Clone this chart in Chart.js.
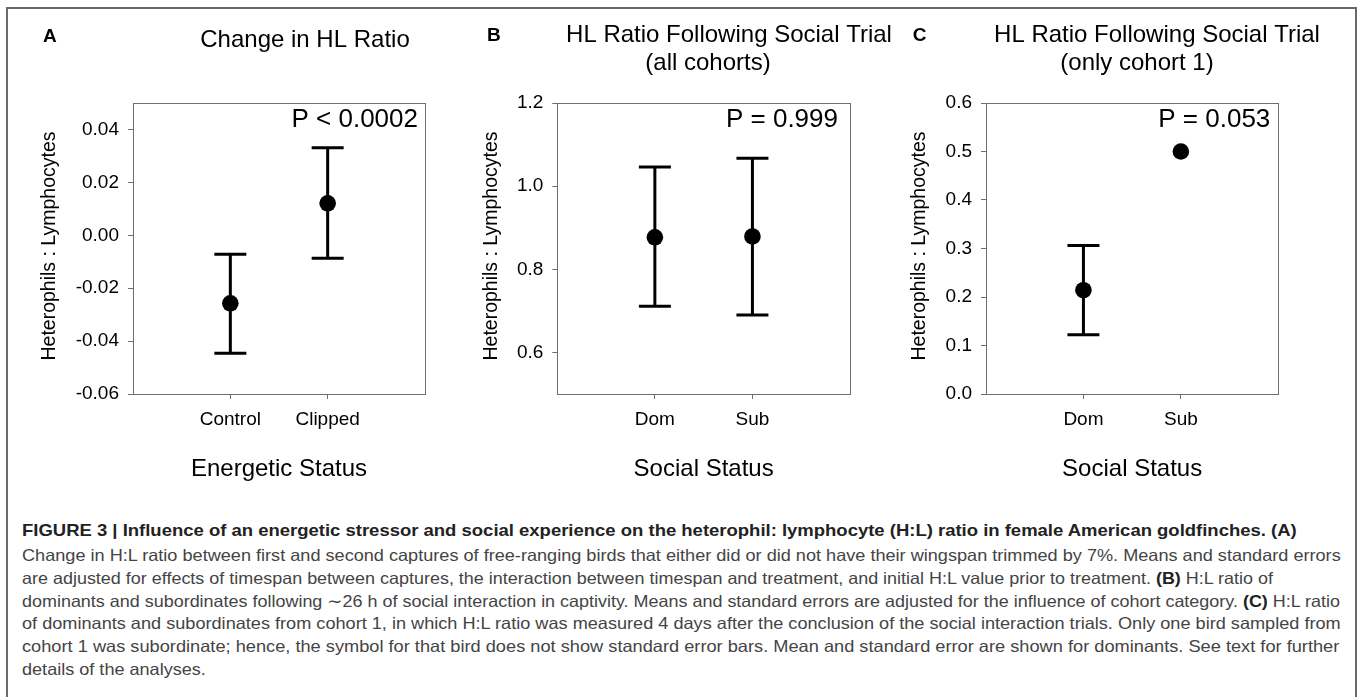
<!DOCTYPE html>
<html>
<head>
<meta charset="utf-8">
<script src="https://cdn.jsdelivr.net/npm/chart.js@4"></script>
<style>
  html, body { margin: 0; padding: 0; background: #fff; }
  body { width: 1358px; height: 697px; position: relative; overflow: hidden; font-family: Arial, "Liberation Sans", sans-serif; }
  .frame { position: absolute; left: 6px; top: 7px; width: 1347px; height: 720px; border: 2px solid #6a6a6a; border-bottom: none; }
  canvas { position: absolute; top: 0; }
  .cap { position: absolute; left: 22px; white-space: nowrap; font-size: 16.5px; line-height: 16.5px; color: #444; transform-origin: 0 0; }
  .cap.head { font-weight: bold; color: #222; }
  .cap b { color: #222; }
</style>
</head>
<body>
<div class="frame"></div>
<canvas id="panelA" width="450" height="500" style="left:0px"></canvas>
<canvas id="panelB" width="450" height="500" style="left:450px"></canvas>
<canvas id="panelC" width="458" height="500" style="left:900px"></canvas>

<div class="cap head" data-right="1296.7" data-base="535.5">FIGURE 3 | Influence of an energetic stressor and social experience on the heterophil: lymphocyte (H:L) ratio in female American goldfinches. (A)</div>
<div class="cap" data-right="1340.7" data-base="561">Change in H:L ratio between first and second captures of free-ranging birds that either did or did not have their wingspan trimmed by 7%. Means and standard errors</div>
<div class="cap" data-right="1273" data-base="584">are adjusted for effects of timespan between captures, the interaction between timespan and treatment, and initial H:L value prior to treatment. <b>(B)</b> H:L ratio of</div>
<div class="cap" data-right="1340" data-base="606.5">dominants and subordinates following ∼26 h of social interaction in captivity. Means and standard errors are adjusted for the influence of cohort category. <b>(C)</b> H:L ratio</div>
<div class="cap" data-right="1340.7" data-base="629">of dominants and subordinates from cohort 1, in which H:L ratio was measured 4 days after the conclusion of the social interaction trials. Only one bird sampled from</div>
<div class="cap" data-right="1339.3" data-base="651.5">cohort 1 was subordinate; hence, the symbol for that bird does not show standard error bars. Mean and standard error are shown for dominants. See text for further</div>
<div class="cap" data-base="674.5">details of the analyses.</div>

<script>
// Panel A: change in HL ratio by energetic status
const categoriesA = ['Control', 'Clipped'];
const meansA = [-0.0257, 0.0121];
const upperA = [-0.0072, 0.0331];
const lowerA = [-0.0446, -0.0087];
const yTicksA = [-0.06, -0.04, -0.02, 0.00, 0.02, 0.04];

// Panel B: HL ratio after social trial, all cohorts
const categoriesB = ['Dom', 'Sub'];
const meansB = [0.877, 0.879];
const upperB = [1.046, 1.067];
const lowerB = [0.711, 0.690];
const yTicksB = [0.6, 0.8, 1.0, 1.2];

// Panel C: only cohort 1 (one subordinate bird, no error bar)
const categoriesC = ['Dom', 'Sub'];
const meansC = [0.214, 0.500];
const upperC = [0.306, null];
const lowerC = [0.122, null];
const yTicksC = [0.0, 0.1, 0.2, 0.3, 0.4, 0.5, 0.6];

const FONT = 'Arial, "Liberation Sans", sans-serif';
const AXIS_GREY = '#6e6e6e';

/**
 * Error bars drawn under the points, using the chart's own scales
 */
const errorBarsPlugin = {
    id: 'errorBars',
    beforeDatasetsDraw(chart, args, opts) {
        const { ctx } = chart;
        const x = chart.scales.x;
        const y = chart.scales.y;
        ctx.save();
        ctx.strokeStyle = '#000';
        ctx.lineWidth = 3;
        opts.upper.forEach((hi, i) => {
            if (hi == null) return;
            const px = x.getPixelForValue(i + 1);
            const yHi = y.getPixelForValue(hi);
            const yLo = y.getPixelForValue(opts.lower[i]);
            ctx.beginPath();
            ctx.moveTo(px, yHi); ctx.lineTo(px, yLo);
            ctx.moveTo(px - 16, yHi); ctx.lineTo(px + 16, yHi);
            ctx.moveTo(px - 16, yLo); ctx.lineTo(px + 16, yLo);
            ctx.stroke();
        });
        ctx.restore();
    }
};

/**
 * Box frame plus panel letter, titles, P value and axis titles
 */
const panelTextPlugin = {
    id: 'panelText',
    afterDraw(chart, args, o) {
        const { ctx, chartArea: a } = chart;
        ctx.save();
        ctx.strokeStyle = AXIS_GREY;
        ctx.lineWidth = 1;
        ctx.strokeRect(Math.round(a.left) + 0.5, Math.round(a.top) + 0.5, Math.round(a.right - a.left), Math.round(a.bottom - a.top));

        ctx.fillStyle = '#000';
        ctx.textBaseline = 'middle';

        ctx.font = 'bold 19px ' + FONT;
        ctx.textAlign = 'left';
        ctx.fillText(o.letter, o.letterX, o.letterY);

        ctx.font = '24px ' + FONT;
        ctx.textAlign = 'center';
        o.titles.forEach(t => ctx.fillText(t.text, t.x, t.y));

        ctx.font = '26px ' + FONT;
        ctx.textAlign = 'right';
        ctx.fillText(o.pText, a.right - o.pInset, 120);

        ctx.font = '24px ' + FONT;
        ctx.textAlign = 'center';
        ctx.fillText(o.xTitle, (a.left + a.right) / 2, 469);

        ctx.translate(o.yTitleX, 246);
        ctx.rotate(-Math.PI / 2);
        ctx.font = '19.5px ' + FONT;
        ctx.fillText('Heterophils : Lymphocytes', 0, 0);
        ctx.restore();
    }
};

function makePanel(p) {
    const canvas = document.getElementById(p.id);
    return new Chart(canvas, {
        type: 'scatter',
        data: {
            datasets: [{
                data: p.means.map((m, i) => ({ x: i + 1, y: m })),
                backgroundColor: '#000',
                borderColor: '#000',
                borderWidth: 0,
                pointRadius: 8.3,
                pointHoverRadius: 8.3
            }]
        },
        options: {
            responsive: false,
            animation: false,
            devicePixelRatio: 1,
            events: [],
            layout: { padding: { left: p.padLeft, right: p.padRight, top: 103, bottom: 10 } },
            plugins: {
                legend: { display: false },
                tooltip: { enabled: false },
                errorBars: { upper: p.upper, lower: p.lower },
                panelText: p.text
            },
            scales: {
                x: {
                    type: 'linear',
                    min: 0,
                    max: 3,
                    afterBuildTicks: s => { s.ticks = p.categories.map((c, i) => ({ value: i + 1 })); },
                    afterFit: s => { s.height = 96; },
                    ticks: {
                        callback: (v, i) => p.categories[i],
                        font: { family: FONT, size: 19 },
                        color: '#000',
                        padding: 9,
                        maxRotation: 0,
                        autoSkip: false
                    },
                    grid: { drawOnChartArea: false, drawTicks: true, tickLength: 5, color: AXIS_GREY },
                    border: { display: false }
                },
                y: {
                    min: p.yMin,
                    max: p.yMax,
                    afterBuildTicks: s => { s.ticks = p.yTicks.map(v => ({ value: v })); },
                    afterFit: s => { s.width = p.yWidth; },
                    ticks: {
                        callback: v => v.toFixed(p.decimals),
                        font: { family: FONT, size: 19 },
                        color: '#000',
                        padding: 9
                    },
                    grid: { drawOnChartArea: false, drawTicks: true, tickLength: 5, color: AXIS_GREY },
                    border: { display: false }
                }
            }
        },
        plugins: [errorBarsPlugin, panelTextPlugin]
    });
}

makePanel({
    id: 'panelA', categories: categoriesA, means: meansA, upper: upperA, lower: lowerA,
    yTicks: yTicksA, yMin: -0.06, yMax: 0.05, decimals: 2,
    padLeft: 33, yWidth: 100, padRight: 25,
    text: {
        letter: 'A', letterX: 43, letterY: 37,
        titles: [{ text: 'Change in HL Ratio', x: 305, y: 40 }],
        pText: 'P < 0.0002', pInset: 7,
        xTitle: 'Energetic Status', yTitleX: 50
    }
});

makePanel({
    id: 'panelB', categories: categoriesB, means: meansB, upper: upperB, lower: lowerB,
    yTicks: yTicksB, yMin: 0.5, yMax: 1.2, decimals: 1,
    padLeft: 27, yWidth: 80.3, padRight: 50,
    text: {
        letter: 'B', letterX: 37, letterY: 36,
        titles: [
            { text: 'HL Ratio Following Social Trial', x: 279, y: 35 },
            { text: '(all cohorts)', x: 258, y: 63 }
        ],
        pText: 'P = 0.999', pInset: 12,
        xTitle: 'Social Status', yTitleX: 42
    }
});

makePanel({
    id: 'panelC', categories: categoriesC, means: meansC, upper: upperC, lower: lowerC,
    yTicks: yTicksC, yMin: 0, yMax: 0.6, decimals: 1,
    padLeft: 26, yWidth: 60, padRight: 79.7,
    text: {
        letter: 'C', letterX: 12.7, letterY: 36,
        titles: [
            { text: 'HL Ratio Following Social Trial', x: 257, y: 35 },
            { text: '(only cohort 1)', x: 237, y: 63 }
        ],
        pText: 'P = 0.053', pInset: 8,
        xTitle: 'Social Status', yTitleX: 20
    }
});

// Caption lines: place by baseline and stretch each to its measured right edge
const capLines = Array.from(document.querySelectorAll('.cap'));
const scales = [];
capLines.forEach(el => {
    el.style.top = (parseFloat(el.dataset.base) - 14) + 'px';
    if (el.dataset.right) {
        const w = el.getBoundingClientRect().width;
        const s = (parseFloat(el.dataset.right) - 22) / w;
        scales.push(s);
        el.style.transform = 'scaleX(' + s + ')';
    }
});
const avg = scales.slice(1).reduce((a, b) => a + b, 0) / (scales.length - 1);
capLines.filter(el => !el.dataset.right).forEach(el => { el.style.transform = 'scaleX(' + avg + ')'; });
</script>
</body>
</html>
